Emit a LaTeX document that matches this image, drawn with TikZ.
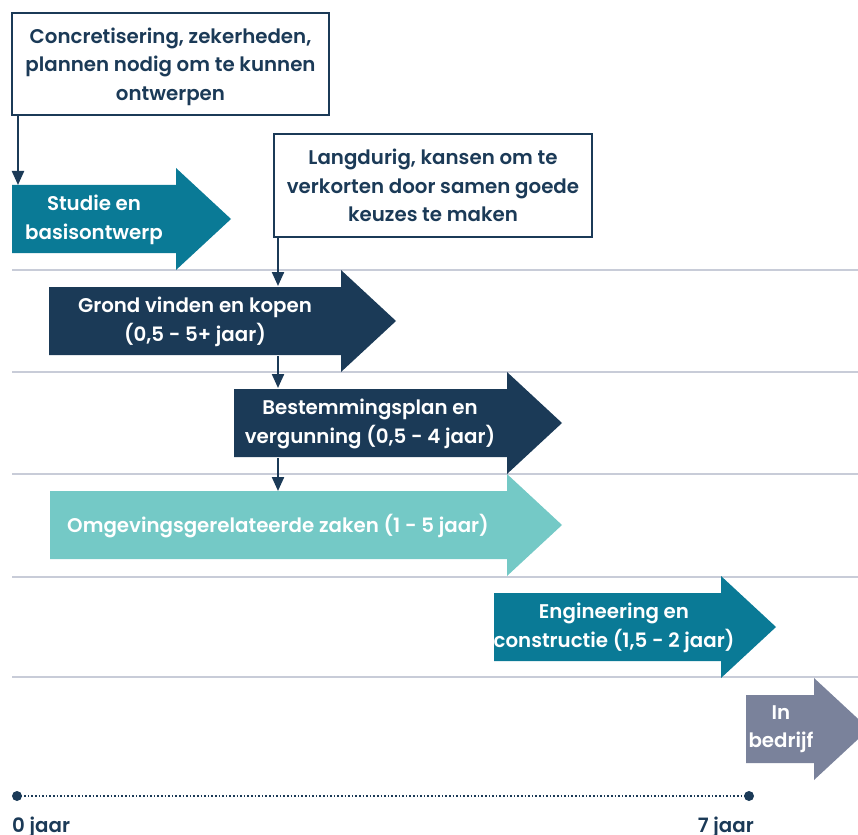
\documentclass[tikz,border=0pt]{standalone}
\usepackage{fontspec}
\setmainfont{Poppins SemiBold}
\usetikzlibrary{arrows.meta}
\definecolor{navy}{RGB}{27,58,87}
\definecolor{tealdark}{RGB}{10,122,150}
\definecolor{teallight}{RGB}{116,201,198}
\definecolor{greyblue}{RGB}{122,130,155}
\definecolor{rule}{RGB}{200,204,216}
\tikzset{
  txt/.style={font=\fontsize{19.8}{28.5}\selectfont, align=center, inner sep=0pt},
  wtxt/.style={txt, text=white},
  boxnode/.style={draw=navy, line width=2pt, fill=white, txt, text=navy, text depth=0pt},
  conn/.style={draw=navy, line width=2.2pt, -{Triangle[length=14pt,width=12pt]}},
  rulerline/.style={draw=rule, line width=1.2pt},
}
\newcommand\phasearrow[4]{% color, xleft, xbase, ycenter
  \fill[#1] (#2,#4-34) -- (#3,#4-34) -- (#3,#4-51) -- (#3+55,#4) -- (#3,#4+51) -- (#3,#4+34) -- (#2,#4+34) -- cycle;}
\begin{document}
\begin{tikzpicture}[x=1pt,y=-1pt]
\useasboundingbox (0,0) rectangle (858,834);
% grid rules
\foreach \yy in {270,372,474,577,677} \draw[rulerline] (12,\yy) -- (858,\yy);
% phase arrows
\phasearrow{tealdark}{12}{176}{219}
\phasearrow{navy}{49}{341}{321}
\phasearrow{navy}{234}{507}{423}
\phasearrow{teallight}{50}{507}{525}
\phasearrow{tealdark}{494}{721}{627}
\phasearrow{greyblue}{746}{814}{729}
% phase labels
\node[wtxt] (studie) at (94,220) {Studie en\\basisontwerp};
\node[wtxt] (grond) at (195,322) {Grond vinden en kopen\\(0,5 - 5+ jaar)};
\node[wtxt] (bestemming) at (370,424) {Bestemmingsplan en\\vergunning (0,5 - 4 jaar)};
\node[wtxt] (omgeving) at (278,526) {Omgevingsgerelateerde zaken (1 - 5 jaar)};
\node[wtxt] (engineering) at (614,628) {Engineering en\\constructie (1,5 - 2 jaar)};
\node[wtxt] (bedrijf) at (781,729) {In\\bedrijf};
% callout boxes
\node[boxnode, minimum width=317pt, minimum height=102pt] (c1) at (170.5,64)
  {Concretisering, zekerheden,\\plannen nodig om te kunnen\\ontwerpen};
\node[boxnode, minimum width=318pt, minimum height=103pt] (c2) at (433,185.5)
  {Langdurig, kansen om te\\verkorten door samen goede\\keuzes te maken};
% connector end points
\coordinate (s1) at (18,185);
\coordinate (g1) at (278,286);
\coordinate (g2) at (278,356);
\coordinate (b1) at (278,388);
\coordinate (b2) at (278,458);
\coordinate (o1) at (278,491);
\draw[conn] (c1.south -| s1) -- (s1);
\draw[conn] (c2.south -| g1) -- (g1);
\draw[conn] (g2) -- (b1);
\draw[conn] (b2) -- (o1);
% timeline
\coordinate (t0) at (17,796);
\coordinate (t7) at (749,796);
\draw[navy, line width=1.6pt, dotted] (t0) -- (t7);
\fill[navy] (t0) circle (5pt);
\fill[navy] (t7) circle (5pt);
\node[txt, text=navy, anchor=base west] (l0) at (12,832) {0 jaar};
\node[txt, text=navy, anchor=base east] (l7) at (754,832) {7 jaar};
\end{tikzpicture}
\end{document}
